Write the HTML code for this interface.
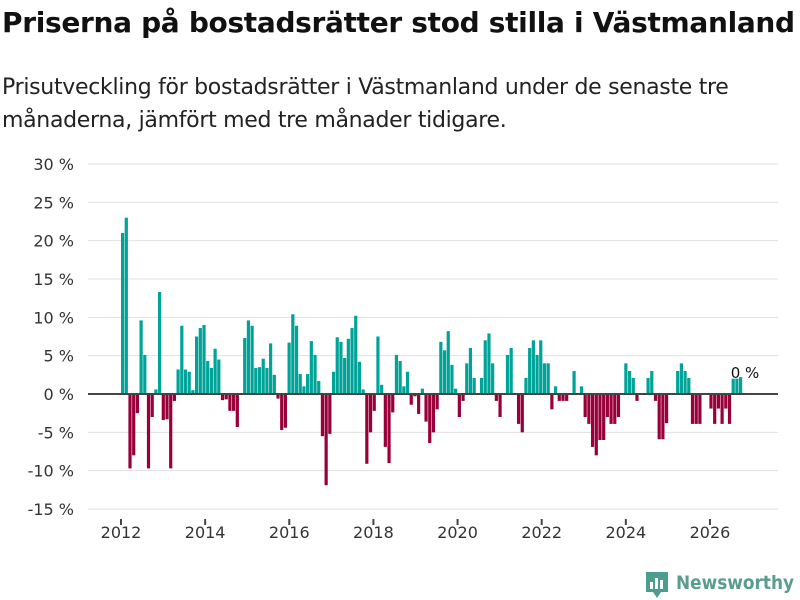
<!DOCTYPE html>
<html><head><meta charset="utf-8"><style>
body{margin:0;width:800px;height:600px;background:#fff;font-family:"Liberation Sans","DejaVu Sans",sans-serif;overflow:hidden}
#t{position:absolute;left:2px;top:6px;font-size:28px;font-weight:bold;color:#111;font-family:"DejaVu Sans",sans-serif;letter-spacing:-0.32px;white-space:nowrap}
#s{position:absolute;left:2px;top:71px;font-size:22px;line-height:33px;color:#222;font-family:"DejaVu Sans",sans-serif;letter-spacing:-0.3px;white-space:nowrap}
svg{position:absolute;left:0;top:0}
</style></head><body>
<div id="t">Priserna på bostadsrätter stod stilla i Västmanland</div>
<div id="s">Prisutveckling för bostadsrätter i Västmanland under de senaste tre<br>månaderna, jämfört med tre månader tidigare.</div>
<svg id="c" width="800" height="600"></svg>
<script>
const values=[21,23,-9.7,-8,-2.5,9.6,5.1,-9.7,-3.0,0.6,13.3,-3.4,-3.3,-9.7,-0.9,3.2,8.9,3.2,2.9,0.5,7.5,8.6,9.0,4.3,3.4,5.9,4.5,
-0.8,-0.7,-2.2,-2.2,-4.3,0,7.3,9.6,8.9,3.4,3.5,4.6,3.4,6.6,2.5,-0.6,-4.7,-4.4,6.7,10.4,8.9,2.6,1.0,2.6,6.9,5.1,1.7,
-5.5,-11.9,-5.2,2.9,7.4,6.8,4.7,7.2,8.6,10.2,4.2,0.6,-9.1,-5.0,-2.2,7.5,1.2,-6.9,-9.0,-2.4,5.1,4.3,1.0,2.9,-1.4,-0.3,-2.6,0.7,
-3.6,-6.4,-5.0,-2.0,6.8,5.7,8.2,3.8,0.7,-3.0,-0.9,4.0,6.0,2.1,0,2.1,7.0,7.9,4.0,-0.9,-3.0,0,5.1,6.0,0,-3.9,-5.0,2.1,6.0,7.0,
5.1,7.0,4.0,4.0,-2.0,1.0,-0.9,-0.9,-0.9,0,3.0,0,1.0,-3.0,-3.9,-6.9,-8.0,-6.0,-6.0,-3.0,-3.9,-3.9,-3.0,0,4.0,3.0,2.1,-0.9,
0,0,2.1,3.0,-0.9,-5.9,-5.9,-3.8,0,0,3.0,4.0,3.0,2.1,-3.9,-3.9,-3.9,0,0,-1.9,-3.9,-1.9,-3.9,-1.9,-3.9,2.0,2.0,2.2];
const yTicks=[30,25,20,15,10,5,0,-5,-10,-15];
const xTickYears=[2012,2014,2016,2018,2020,2022,2024,2026];
const lastLabel="0 %";

const svg=document.getElementById('c');const NS='http://www.w3.org/2000/svg';
const y=v=>394-v*7.667;
const xi=i=>121+i*(618/(values.length-1));
const xy=yr=>121+(yr-2012)*42.07;
function mk(tag,at){const e=document.createElementNS(NS,tag);for(const k in at)e.setAttribute(k,at[k]);svg.appendChild(e);return e;}
yTicks.forEach(t=>{
 const g=mk('line',{x1:88,x2:778,y1:y(t),y2:y(t),stroke:'#e0e0e0','stroke-width':1});
 
 
 const l=mk('text',{x:74,y:y(t)+6,'text-anchor':'end','font-size':16,fill:'#333','font-family':'DejaVu Sans, sans-serif'});
 l.textContent=t+' %';
 
 
});
values.forEach((v,i)=>{
 const r=mk('rect',{x:xi(i),y:Math.min(y(v),y(0)),width:3.2,height:Math.abs(y(v)-y(0)),fill:v>=0?'#00a398':'#99003a'});
 
 
});
const z=mk('line',{x1:88,x2:778,y1:y(0),y2:y(0),stroke:'#444','stroke-width':2});


xTickYears.forEach(yr=>{
 const tm=mk('line',{x1:xy(yr),x2:xy(yr),y1:519,y2:525,stroke:'#444','stroke-width':2});
 
 
 const l=mk('text',{x:xy(yr),y:538,'text-anchor':'middle','font-size':16,fill:'#333','font-family':'DejaVu Sans, sans-serif'});
 l.textContent=yr;
 
 
});
const ll=mk('text',{x:xi(values.length-1)+6,y:378,'text-anchor':'middle','font-size':15,fill:'#111','font-family':'DejaVu Sans, sans-serif'});
ll.textContent=lastLabel;


</script>
<svg width="800" height="600" style="position:absolute;left:0;top:0">
<path d="M646 572h22v20h-7l-4 6-4-6h-7z" fill="#4a9d8f"/>
<rect x="650" y="582" width="3" height="7" fill="#fff"/><rect x="655" y="578" width="3" height="11" fill="#fff"/><rect x="660" y="580" width="3" height="9" fill="#fff"/>
<text x="676" y="589" font-size="19" font-weight="bold" fill="#5a9c90" font-family="DejaVu Sans, sans-serif" textLength="118" lengthAdjust="spacingAndGlyphs">Newsworthy</text>
</svg>
</body></html>
